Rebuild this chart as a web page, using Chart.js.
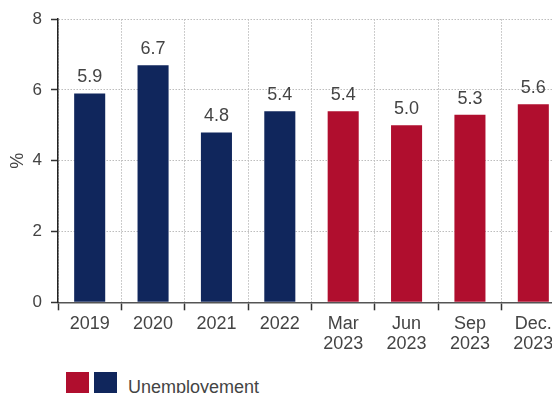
<!DOCTYPE html>
<html>
<head>
<meta charset="utf-8">
<script src="https://cdn.jsdelivr.net/npm/chart.js@4.4.1/dist/chart.umd.min.js"></script>
<style>
  html, body { margin: 0; padding: 0; background: #fff; overflow: hidden; width: 552px; height: 393px; }
  #wrap { position: absolute; left: 0; top: 0; width: 566px; height: 365px; }
  .key { position: absolute; top: 372px; width: 23px; height: 23px; }
  #legend-text { position: absolute; left: 128px; top: 377px; font: 18px "Liberation Sans", Arial, sans-serif; color: #444; white-space: nowrap; }
</style>
</head>
<body>
<div id="wrap"><canvas id="chart" width="566" height="365"></canvas></div>
<div class="key" style="left:66px;background:#b00e2e"></div>
<div class="key" style="left:94px;background:#10265c"></div>
<div id="legend-text">Unemployement</div>
<script>
// Unemployment rate, %: annual figures then quarterly 2023
const categories = [['2019'], ['2020'], ['2021'], ['2022'], ['Mar', '2023'], ['Jun', '2023'], ['Sep', '2023'], ['Dec.', '2023']];
const annualValues = [5.9, 6.7, 4.8, 5.4, null, null, null, null];
const quarterlyValues = [null, null, null, null, 5.4, 5.0, 5.3, 5.6];
const yTicks = [0, 2, 4, 6, 8];

const NAVY = '#10265c';
const RED = '#b00e2e';
const TEXT = '#444';
const GRID = '#bdbdbd';
const FONT = '"Liberation Sans", Arial, sans-serif';

// Writes each bar's value above it
const valueLabels = {
  id: 'valueLabels',
  afterDatasetsDraw(chart) {
    const ctx = chart.ctx;
    ctx.save();
    ctx.font = '18px ' + FONT;
    ctx.fillStyle = TEXT;
    ctx.textAlign = 'center';
    ctx.textBaseline = 'middle';
    chart.data.datasets.forEach((ds, di) => {
      chart.getDatasetMeta(di).data.forEach((bar, i) => {
        const v = ds.data[i];
        if (v === null || v === undefined) return;
        ctx.fillText(v.toFixed(1), bar.x, bar.y - 16);
      });
    });
    ctx.restore();
  }
};

new Chart(document.getElementById('chart'), {
  type: 'bar',
  data: {
    labels: categories,
    datasets: [
      { label: 'Annual', data: annualValues, backgroundColor: NAVY },
      { label: 'Quarterly', data: quarterlyValues, backgroundColor: RED }
    ]
  },
  options: {
    responsive: false,
    animation: false,
    devicePixelRatio: 1,
    layout: { padding: { top: 9, left: 0, right: 1, bottom: 0 } },
    datasets: { bar: { barPercentage: 0.49, categoryPercentage: 1 } },
    plugins: { legend: { display: false }, tooltip: { enabled: false } },
    scales: {
      x: {
        stacked: true,
        afterFit(scale) { scale.height = 62.7; },
        grid: {
          offset: true,
          color: GRID,
          tickColor: '#333',
          tickLength: 8,
          tickWidth: 1.5
        },
        border: { color: '#555', width: 1.5, dash: [1.5, 1.5] },
        ticks: { color: TEXT, font: { family: FONT, size: 18, lineHeight: 1.15 }, padding: 3, maxRotation: 0, autoSkip: false }
      },
      y: {
        min: 0,
        max: 8,
        afterFit(scale) { scale.width = 58; },
        afterBuildTicks(scale) { scale.ticks = yTicks.map(v => ({ value: v })); },
        grid: {
          color: (c) => c.tick && c.tick.value === 0 ? 'rgba(0,0,0,0)' : GRID,
          tickColor: '#333',
          tickLength: 7,
          tickWidth: 1.5
        },
        border: { color: '#222', width: 1.5, dash: [1.5, 1.5] },
        ticks: { color: TEXT, font: { family: FONT, size: 17 }, padding: 9 },
        title: { display: true, text: '%', color: TEXT, font: { family: FONT, size: 18 }, padding: { top: 7, bottom: 0 } }
      }
    }
  },
  plugins: [valueLabels]
});
</script>
</body>
</html>
